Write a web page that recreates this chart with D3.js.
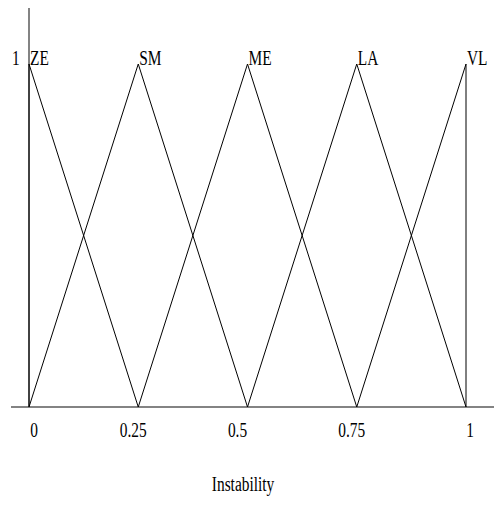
<!DOCTYPE html>
<html>
<head>
<meta charset="utf-8">
<script src="https://d3js.org/d3.v7.min.js"></script>
<style>
  body { margin: 0; background: white; }
  text { font-family: "Liberation Serif", "DejaVu Serif", serif; font-size: 20px; fill: black; }
  path.mf { fill: none; stroke: black; stroke-width: 1px; }
  line.axis { stroke: #5a5a5a; stroke-width: 1.5px; }
</style>
</head>
<body>
<script>
// membership functions for "Instability"
let setNames = ["ZE", "SM", "ME", "LA", "VL"];
let peaks = [0, 0.25, 0.5, 0.75, 1];
let tickValues = [0, 0.25, 0.5, 0.75, 1];
let tickLabels = ["0", "0.25", "0.5", "0.75", "1"];
let xLabel = "Instability";

let width = 494, height = 505;
let sx = 0.77; // narrow type, like the original

let svg = d3.select("body").append("svg")
    .attr("width", width)
    .attr("height", height);

let x = d3.scaleLinear().domain([0, 1]).range([29, 466]);
let y = d3.scaleLinear().domain([0, 1]).range([407, 64]);

// draws condensed text at (tx, ty)
function label(tx, ty, s, anchor) {
    svg.append("text")
        .attr("transform", "translate(" + tx + "," + ty + ") scale(" + sx + ",1)")
        .attr("text-anchor", anchor || "start")
        .text(s);
}

// axes
svg.append("line").attr("class", "axis")
    .attr("x1", 11).attr("x2", 494)
    .attr("y1", y(0)).attr("y2", y(0));
svg.append("line").attr("class", "axis")
    .attr("x1", x(0)).attr("x2", x(0))
    .attr("y1", 8).attr("y2", y(0));

// triangles
let line = d3.line().x(d => x(d[0])).y(d => y(d[1]));
peaks.forEach(function (p, i) {
    let pts = [];
    pts.push(i > 0 ? [peaks[i - 1], 0] : [p, 0]);
    pts.push([p, 1]);
    pts.push(i < peaks.length - 1 ? [peaks[i + 1], 0] : [p, 0]);
    svg.append("path").attr("class", "mf").attr("d", line(pts));

    label(x(p) + 1, y(1) + 1, setNames[i]);
});

label(12, y(1) + 1, "1");

let tickShift = [5, -5, -10, -5, 4];
tickValues.forEach(function (t, i) {
    label(x(t) + tickShift[i], 437, tickLabels[i], "middle");
});

label(243, 491, xLabel, "middle");
</script>
</body>
</html>
